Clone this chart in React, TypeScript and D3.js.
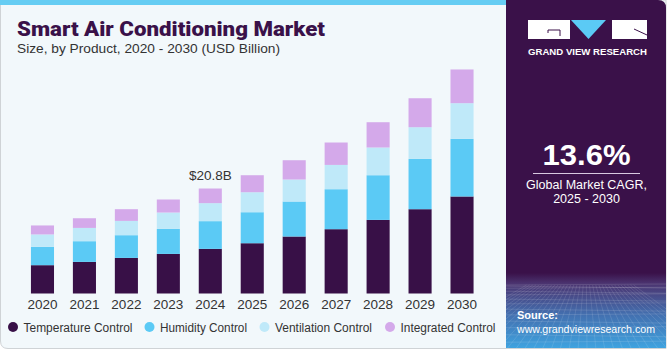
import React from "react";
import * as d3 from "d3";

const years = ["2020", "2021", "2022", "2023", "2024", "2025", "2026", "2027", "2028", "2029", "2030"];
const seriesNames = ["Temperature Control", "Humidity Control", "Ventilation Control", "Integrated Control"];
const temperature = [5.61, 6.26, 7.05, 7.84, 8.84, 9.96, 11.29, 12.74, 14.58, 16.7, 19.22];
const humidity = [3.63, 4.1, 4.5, 4.95, 5.49, 6.14, 6.93, 7.92, 8.85, 9.96, 11.41];
const ventilation = [2.46, 2.63, 2.83, 3.25, 3.57, 3.96, 4.36, 4.81, 5.49, 6.28, 7.07];
const integrated = [1.78, 1.92, 2.32, 2.58, 2.9, 3.37, 3.82, 4.44, 5.01, 5.74, 6.68];
const colors = ["#381047", "#5bcaf5", "#bfe9f9", "#d4a9ea"];
const annotationYear = "2024";
const annotationText = "$20.8B";

const W = 671;
const H = 350;
const FONT = "'Liberation Sans', Arial, sans-serif";

export default function App() {
  const rows = years.map((y, i) => ({
    year: y,
    [seriesNames[0]]: temperature[i],
    [seriesNames[1]]: humidity[i],
    [seriesNames[2]]: ventilation[i],
    [seriesNames[3]]: integrated[i],
  }));
  const stack = d3.stack<any>().keys(seriesNames)(rows);

  const baseY = 293.5;
  const pxPerUnit = 105 / 20.8;
  const yMax = 45;
  const y = d3.scaleLinear().domain([0, yMax]).range([baseY, baseY - yMax * pxPerUnit]);
  const x = d3
    .scaleBand<string>()
    .domain(years)
    .range([21.5, 483])
    .paddingInner(0.45)
    .paddingOuter(0.225);

  const annIdx = years.indexOf(annotationYear);
  const annTop = y(stack[stack.length - 1][annIdx][1]);

  const legendX = [13, 149.5, 264.5, 390];
  const legendW = [109, 87, 97, 95];

  const gridLines: JSX.Element[] = [];
  for (let i = 0; i < 14; i++) {
    const yy = 285 + Math.pow(i / 13, 1.6) * 65;
    gridLines.push(<line key={"h" + i} x1={506} x2={666} y1={yy} y2={yy + (i % 2 ? 2 : -1)} stroke="#ffffff" strokeOpacity={0.18} strokeWidth={0.7} />);
  }
  for (let i = -10; i <= 24; i++) {
    const xb = 506 + i * 9;
    gridLines.push(<line key={"v" + i} x1={586 + (xb - 586) * 0.35} y1={285} x2={xb} y2={350} stroke="#ffffff" strokeOpacity={0.16} strokeWidth={0.7} />);
  }

  return (
    <svg width={W} height={H} viewBox={`0 0 ${W} ${H}`} style={{ display: "block", position: "absolute", left: 0, top: 0 }}>
      <defs>
        <linearGradient id="panelGrad" x1="0" y1="0" x2="0" y2="1">
          <stop offset="0" stopColor="#3a1149" />
          <stop offset="0.78" stopColor="#3a1149" />
          <stop offset="0.81" stopColor="#4b3470" />
          <stop offset="0.9" stopColor="#4370b0" />
          <stop offset="1" stopColor="#3fa6e2" />
        </linearGradient>
        <clipPath id="panelClip">
          <path d="M506,0 H658 Q666,0 666,8 V348 H506 Z" />
        </clipPath>
      </defs>
      <rect x={0} y={0} width={W} height={H} fill="#ffffff" />
      <path d="M0.5,0 H666 V348.5 H8 Q0.5,348.5 0.5,341 Z" fill="#f2f8fb" stroke="#cfd3d6" strokeWidth={1} />
      <rect x={0} y={0} width={506} height={5} fill="#66cdf3" />
      <g clipPath="url(#panelClip)">
        <rect x={506} y={0} width={160} height={350} fill="url(#panelGrad)" />
        {gridLines}
      </g>
      <g>
        <rect x={528} y={20} width={42} height={19} fill="#ffffff" />
        <path d="M548,30 H560 V36 M548,30 V33" stroke="#3a1149" strokeWidth={1} fill="none" />
        <path d="M571,20 H606 L588.5,39 Z" fill="#5bcaf5" />
        <rect x={612} y={20} width={35} height={19} fill="#ffffff" />
        <path d="M634,29 L647,35" stroke="#3a1149" strokeWidth={1} />
        <text x={587.5} y={54.5} textAnchor="middle" fill="#ffffff" fontFamily={FONT} fontWeight={700} fontSize={8.6} textLength={119} lengthAdjust="spacingAndGlyphs">GRAND VIEW RESEARCH</text>
      </g>
      <text x={586.5} y={165} textAnchor="middle" fill="#ffffff" fontFamily={FONT} fontWeight={700} fontSize={29} textLength={88} lengthAdjust="spacingAndGlyphs">13.6%</text>
      <line x1={533} x2={640} y1={173.5} y2={173.5} stroke="#d8c8e0" strokeWidth={1.2} />
      <text x={586.5} y={188.5} textAnchor="middle" fill="#ffffff" fontFamily={FONT} fontSize={12.5}>Global Market CAGR,</text>
      <text x={586.5} y={203} textAnchor="middle" fill="#ffffff" fontFamily={FONT} fontSize={12.5}>2025 - 2030</text>
      <text x={517} y={319} fill="#ffffff" fontFamily={FONT} fontWeight={700} fontSize={11}>Source:</text>
      <text x={517} y={332.5} fill="#ffffff" fontFamily={FONT} fontSize={11} textLength={138} lengthAdjust="spacingAndGlyphs">www.grandviewresearch.com</text>

      <text x={17} y={36} fill="#3a1149" fontFamily="Roboto, 'Open Sans', sans-serif" fontWeight={900} fontSize={21} textLength={308} lengthAdjust="spacingAndGlyphs">Smart Air Conditioning Market</text>
      <text x={17} y={53} fill="#333333" fontFamily={FONT} fontSize={13.5} textLength={263} lengthAdjust="spacingAndGlyphs">Size, by Product, 2020 - 2030 (USD Billion)</text>

      {stack.map((s, si) => (
        <g key={s.key} fill={colors[si]}>
          {s.map((d: any) => (
            <rect
              key={d.data.year}
              x={x(d.data.year)}
              width={x.bandwidth()}
              y={y(d[1])}
              height={y(d[0]) - y(d[1])}
            />
          ))}
        </g>
      ))}
      {years.map((yr) => (
        <text key={yr} x={(x(yr) as number) + x.bandwidth() / 2} y={308.5} textAnchor="middle" fill="#333333" fontFamily={FONT} fontSize={13.5}>{yr}</text>
      ))}
      <text x={(x(annotationYear) as number) + x.bandwidth() / 2} y={annTop - 9} textAnchor="middle" fill="#333333" fontFamily={FONT} fontSize={13.5}>{annotationText}</text>

      {seriesNames.map((n, i) => (
        <g key={n}>
          <circle cx={legendX[i]} cy={327} r={5} fill={colors[i]} />
          <text x={legendX[i] + 10.5} y={331.5} fill="#333333" fontFamily={FONT} fontSize={12.5} textLength={legendW[i]} lengthAdjust="spacingAndGlyphs">{n}</text>
        </g>
      ))}
    </svg>
  );
}
